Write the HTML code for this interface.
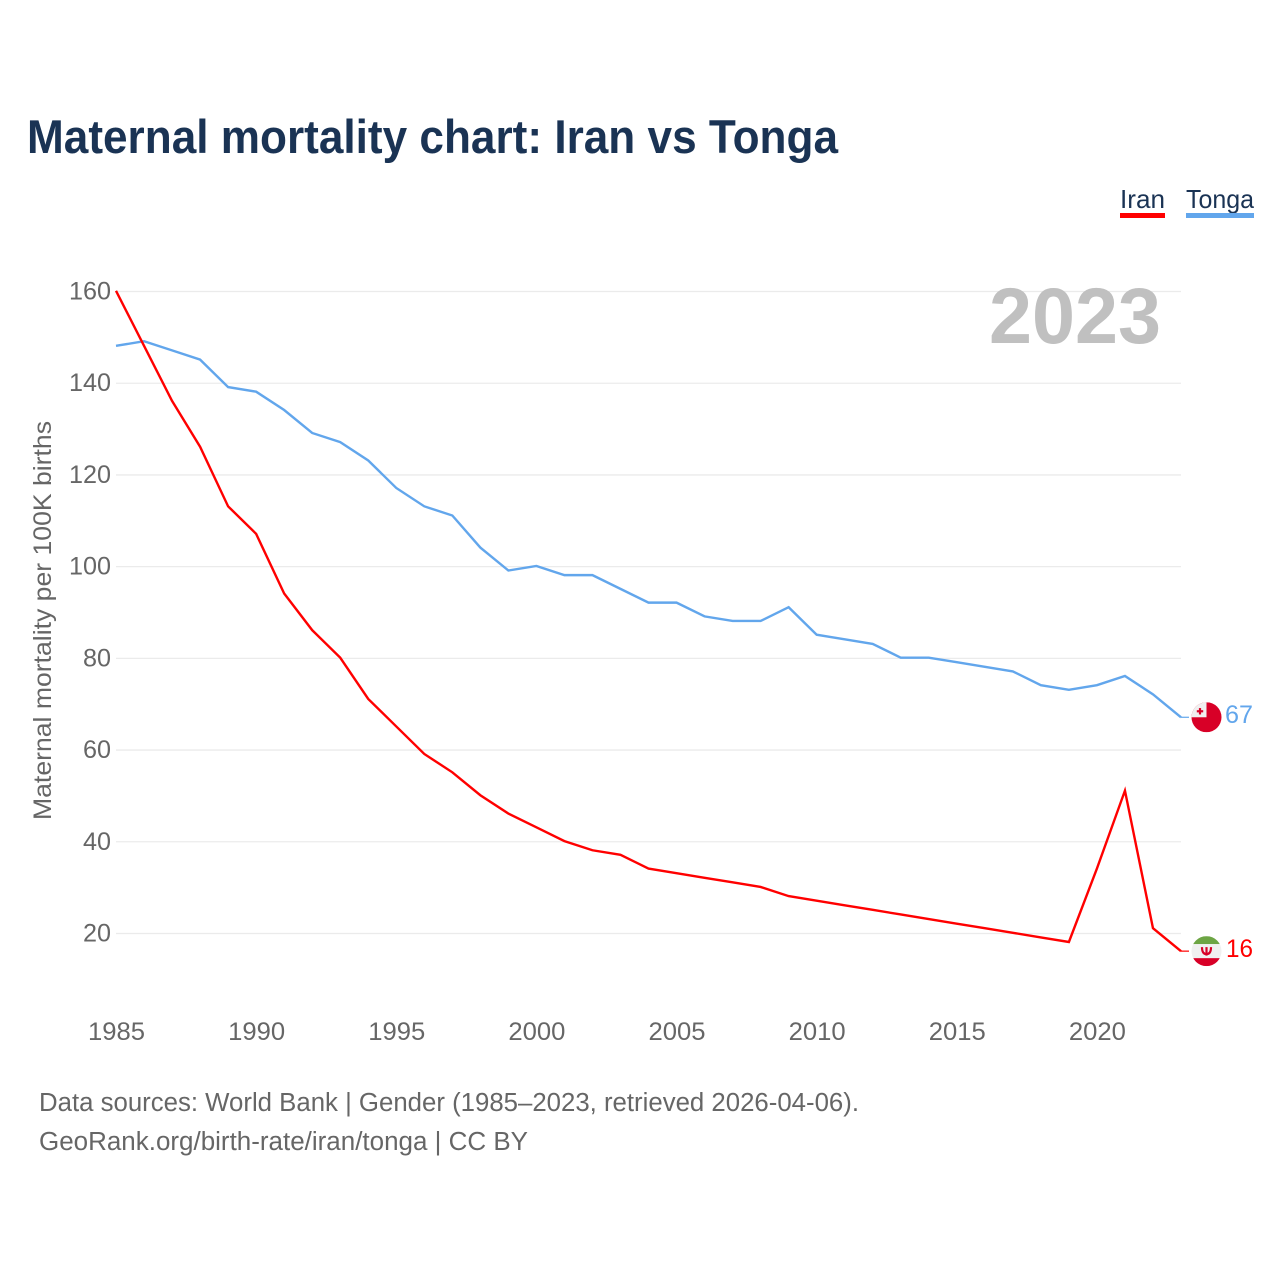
<!DOCTYPE html>
<html lang="en">
<head>
<meta charset="utf-8">
<title>Maternal mortality chart: Iran vs Tonga</title>
<style>
html,body{margin:0;padding:0;background:#fff;width:1280px;height:1280px;overflow:hidden}
svg{display:block}
text{font-family:"Liberation Sans",sans-serif}
</style>
</head>
<body>
<svg id="chart" width="1280" height="1280" viewBox="0 0 1280 1280" xmlns="http://www.w3.org/2000/svg">
  <defs>
    <clipPath id="flag-clip"><circle cx="0" cy="0" r="15"></circle></clipPath>
  </defs>
  <text x="27" y="153" font-size="47" font-weight="700" fill="#1a3354" textLength="811" lengthAdjust="spacingAndGlyphs">Maternal mortality chart: Iran vs Tonga</text>

  <g>
    <g>
      <text x="1120" y="208" font-size="26" fill="#1a3354" textLength="45" lengthAdjust="spacingAndGlyphs">Iran</text>
      <rect x="1120" y="213" width="45" height="5" fill="#ff0000"></rect>
    </g>
    <g>
      <text x="1186" y="208" font-size="26" fill="#1a3354" textLength="68" lengthAdjust="spacingAndGlyphs">Tonga</text>
      <rect x="1186" y="213" width="68" height="5" fill="#62a6ec"></rect>
    </g>
  </g>

  <g id="grid"></g>
  <g id="y-ticks"></g>
  <g id="x-ticks"></g>

  <text transform="translate(51,620.5) rotate(-90)" text-anchor="middle" font-size="25" fill="#666666" textLength="399" lengthAdjust="spacingAndGlyphs">Maternal mortality per 100K births</text>

  <text id="year-label" x="989" y="343" font-size="79" font-weight="700" fill="#c0c0c0" textLength="172" lengthAdjust="spacingAndGlyphs">2023</text>

  <g id="series"></g>

  <g id="flag-tonga">
    <g clip-path="url(#flag-clip)">
      <rect x="-15" y="-15" width="30" height="30" fill="#d80027"></rect>
      <rect x="-15" y="-15" width="15" height="15" fill="#f0f0f0"></rect>
      <rect x="-7.6" y="-9.2" width="2.2" height="6.4" fill="#d80027"></rect>
      <rect x="-9.7" y="-7.1" width="6.4" height="2.2" fill="#d80027"></rect>
    </g>
  </g>
  <g id="flag-iran">
    <g clip-path="url(#flag-clip)">
      <rect x="-15" y="-15" width="30" height="8" fill="#6da544"></rect>
      <rect x="-15" y="-7" width="30" height="14" fill="#f0f0f0"></rect>
      <rect x="-15" y="7" width="30" height="8" fill="#d80027"></rect>
      <path d="M-4.5,-4 Q-4.5,3 0,3 Q4.5,3 4.5,-4 M0,-4 V4.5" fill="none" stroke="#d80027" stroke-width="2.2"></path>
    </g>
  </g>

  <text id="value-tonga" x="1225" font-size="25" fill="#62a6ec" textLength="28" lengthAdjust="spacingAndGlyphs"></text>
  <text id="value-iran" x="1226" font-size="25" fill="#ff0000" textLength="27" lengthAdjust="spacingAndGlyphs"></text>

  <text x="39" y="1111" font-size="25.5" fill="#666666" textLength="820" lengthAdjust="spacingAndGlyphs">Data sources: World Bank | Gender (1985–2023, retrieved 2026-04-06).</text>
  <text x="39" y="1150" font-size="25.5" fill="#666666" textLength="489" lengthAdjust="spacingAndGlyphs">GeoRank.org/birth-rate/iran/tonga | CC BY</text>
</svg>
<script>
const years = [1985,1986,1987,1988,1989,1990,1991,1992,1993,1994,1995,1996,1997,1998,1999,2000,2001,2002,2003,2004,2005,2006,2007,2008,2009,2010,2011,2012,2013,2014,2015,2016,2017,2018,2019,2020,2021,2022,2023];
const iranValues = [160,148,136,126,113,107,94,86,80,71,65,59,55,50,46,43,40,38,37,34,33,32,31,30,28,27,26,25,24,23,22,21,20,19,18,34,51,21,16];
const tongaValues = [148,149,147,145,139,138,134,129,127,123,117,113,111,104,99,100,98,98,95,92,92,89,88,88,91,85,84,83,80,80,79,78,77,74,73,74,76,72,67];
const yTickLabels = [20,40,60,80,100,120,140,160];
const xTickLabels = [1985,1990,1995,2000,2005,2010,2015,2020];

const SVG_NS = 'http://www.w3.org/2000/svg';
function xScale(year) { return 116 + (year - 1985) * (1181 - 116) / (2023 - 1985); }
function yScale(value) { return 932.8 - (value - 20) * (932.8 - 290.8) / (160 - 20); }

const grid = document.getElementById('grid');
const yTicks = document.getElementById('y-ticks');
const xTicks = document.getElementById('x-ticks');
const seriesGroup = document.getElementById('series');

yTickLabels.forEach(function (v) {
  const line = document.createElementNS(SVG_NS, 'line');
  
  
  line.setAttribute('x1', xScale(1985));
  line.setAttribute('x2', xScale(2023));
  line.setAttribute('y1', yScale(v) + 0.7);
  line.setAttribute('y2', yScale(v) + 0.7);
  line.setAttribute('stroke', '#ebebeb');
  line.setAttribute('stroke-width', '1.3');
  grid.appendChild(line);

  const label = document.createElementNS(SVG_NS, 'text');
  
  
  label.setAttribute('x', 111);
  label.setAttribute('y', yScale(v) + 8.7);
  label.setAttribute('text-anchor', 'end');
  label.setAttribute('font-size', '25');
  label.setAttribute('fill', '#666666');
  label.setAttribute('textLength', String(v).length * 14);
  label.setAttribute('lengthAdjust', 'spacingAndGlyphs');
  label.textContent = v;
  yTicks.appendChild(label);
});

xTickLabels.forEach(function (v) {
  const label = document.createElementNS(SVG_NS, 'text');
  
  
  label.setAttribute('x', xScale(v) + 0.5);
  label.setAttribute('y', 1040);
  label.setAttribute('text-anchor', 'middle');
  label.setAttribute('font-size', '25');
  label.setAttribute('fill', '#666666');
  label.setAttribute('textLength', String(v).length * 14.25);
  label.setAttribute('lengthAdjust', 'spacingAndGlyphs');
  label.textContent = v;
  xTicks.appendChild(label);
});

function linePoints(values) {
  return values.map(function (v, i) { return xScale(years[i]) + ',' + yScale(v); }).join(' ');
}

const tongaLine = document.createElementNS(SVG_NS, 'polyline');


tongaLine.setAttribute('points', linePoints(tongaValues));
tongaLine.setAttribute('fill', 'none');
tongaLine.setAttribute('stroke', '#62a6ec');
tongaLine.setAttribute('stroke-width', '2.4');
seriesGroup.appendChild(tongaLine);

const iranLine = document.createElementNS(SVG_NS, 'polyline');


iranLine.setAttribute('points', linePoints(iranValues));
iranLine.setAttribute('fill', 'none');
iranLine.setAttribute('stroke', '#ff0000');
iranLine.setAttribute('stroke-width', '2.4');
seriesGroup.appendChild(iranLine);

const tongaLast = tongaValues[tongaValues.length - 1];
const iranLast = iranValues[iranValues.length - 1];
const lastX = xScale(years[years.length - 1]);

const tongaConnector = document.createElementNS(SVG_NS, 'line');


tongaConnector.setAttribute('x1', lastX);
tongaConnector.setAttribute('x2', lastX + 8);
tongaConnector.setAttribute('y1', yScale(tongaLast));
tongaConnector.setAttribute('y2', yScale(tongaLast));
tongaConnector.setAttribute('stroke', '#62a6ec');
tongaConnector.setAttribute('stroke-width', '1.2');
seriesGroup.appendChild(tongaConnector);

const iranConnector = document.createElementNS(SVG_NS, 'line');


iranConnector.setAttribute('x1', lastX);
iranConnector.setAttribute('x2', lastX + 8);
iranConnector.setAttribute('y1', yScale(iranLast));
iranConnector.setAttribute('y2', yScale(iranLast));
iranConnector.setAttribute('stroke', '#ff0000');
iranConnector.setAttribute('stroke-width', '1.2');
seriesGroup.appendChild(iranConnector);

document.getElementById('flag-tonga').setAttribute('transform', 'translate(1206.5,' + yScale(tongaLast) + ')');
document.getElementById('flag-iran').setAttribute('transform', 'translate(1206.5,' + yScale(iranLast) + ')');

const tongaValueLabel = document.getElementById('value-tonga');
tongaValueLabel.setAttribute('y', yScale(tongaLast) + 5.8);
tongaValueLabel.textContent = tongaLast;

const iranValueLabel = document.getElementById('value-iran');
iranValueLabel.setAttribute('y', yScale(iranLast) + 5.8);
iranValueLabel.textContent = iranLast;
</script>
</body>
</html>
